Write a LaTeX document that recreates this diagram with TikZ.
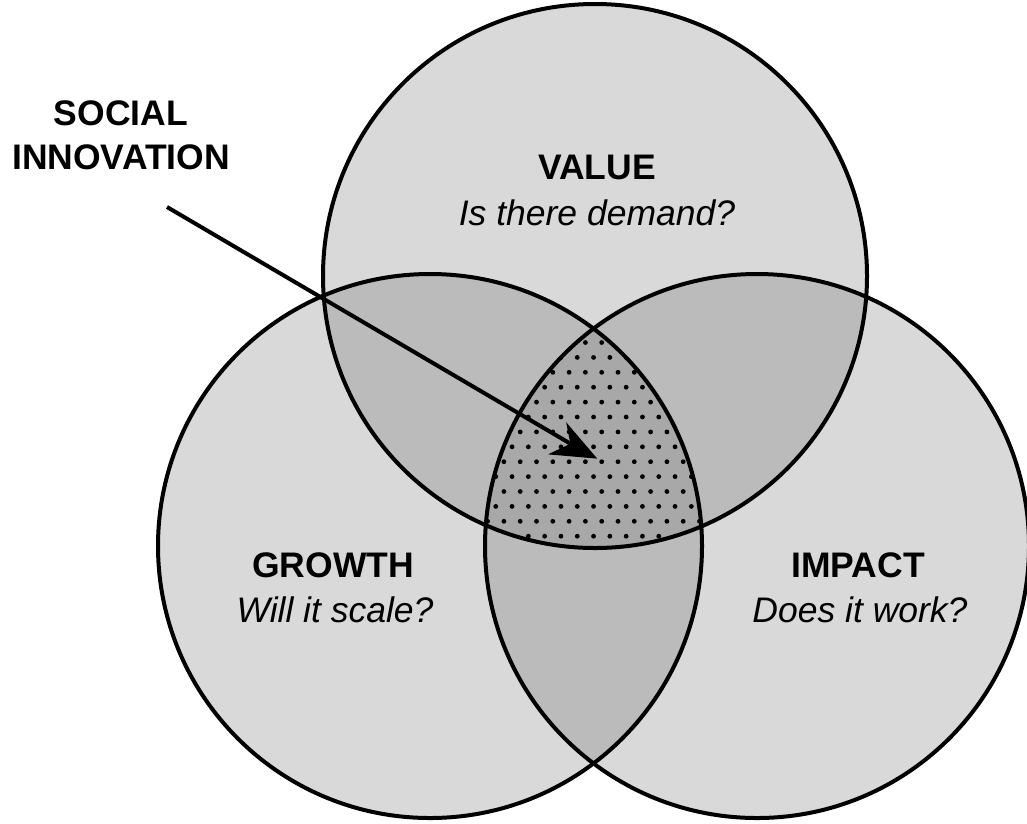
\documentclass[tikz,border=0pt]{standalone}
\usepackage{fontspec}
\setmainfont{Liberation Sans}
\definecolor{lightfill}{HTML}{D9D9D9}
\definecolor{midfill}{HTML}{BBBBBB}
\definecolor{darkfill}{HTML}{A8A8A8}
\begin{document}
\begin{tikzpicture}[x=1pt,y=-1pt,
  outline/.style={draw=black,line width=4pt},
  title/.style={font=\bfseries\fontsize{35.5}{38}\selectfont,anchor=base,inner sep=0pt},
  question/.style={font=\itshape\fontsize{35.5}{38}\selectfont,anchor=base,inner sep=0pt},
  pointer/.style={line width=4pt},
  pointerhead/.style={fill=black,draw=black,line width=1pt,line join=miter}]
\path[fill=white,use as bounding box] (0,0) rectangle (1027,823);
\coordinate (V) at (595,276);
\coordinate (G) at (430,546);
\coordinate (I) at (757,546);
\def\R{272pt}
% base fills
\fill[lightfill] (V) circle[radius=\R];
\fill[lightfill] (G) circle[radius=\R];
\fill[lightfill] (I) circle[radius=\R];
% pairwise overlaps
\begin{scope}
  \clip (V) circle[radius=\R];
  \fill[midfill] (G) circle[radius=\R];
  \fill[midfill] (I) circle[radius=\R];
\end{scope}
\begin{scope}
  \clip (G) circle[radius=\R];
  \fill[midfill] (I) circle[radius=\R];
\end{scope}
% triple overlap with dots
\begin{scope}
  \clip (V) circle[radius=\R];
  \clip (G) circle[radius=\R];
  \clip (I) circle[radius=\R];
  \fill[darkfill] (V) circle[radius=\R];
  \foreach \i in {0,...,18}{
    \foreach \j in {0,...,16}{
      \pgfmathsetmacro{\yy}{461.7+14.9*(\i-10)}
      \pgfmathsetmacro{\xx}{601.7+16.3*(\j-8)+8.15*mod(\i,2)}
      \fill[black] (\xx,\yy) circle[radius=2.4pt];
    }
  }
\end{scope}
% outlines
\draw[outline] (V) circle[radius=\R];
\draw[outline] (G) circle[radius=\R];
\draw[outline] (I) circle[radius=\R];
% labels
\node[title] (valueT) at (597,179) {VALUE};
\node[question] (valueQ) at (597,225) {Is there demand?};
\node[title] (growthT) at (333,577) {GROWTH};
\node[question] (growthQ) at (335,622) {Will it scale?};
\node[title] (impactT) at (858,577) {IMPACT};
\node[question] (impactQ) at (860,622) {Does it work?};
\node[title] (social) at (121,125) {SOCIAL};
\node[title] (innov) at (121,169) {INNOVATION};
% pointer
\coordinate (pstart) at (167,207);
\coordinate (ptip) at (596,458);
\coordinate (pnotch) at (571,444);
\draw[pointer] (pstart) -- (pnotch);
\path[pointerhead] (ptip) -- (567,424) -- (pnotch) -- (550,454) -- cycle;
\end{tikzpicture}
\end{document}
